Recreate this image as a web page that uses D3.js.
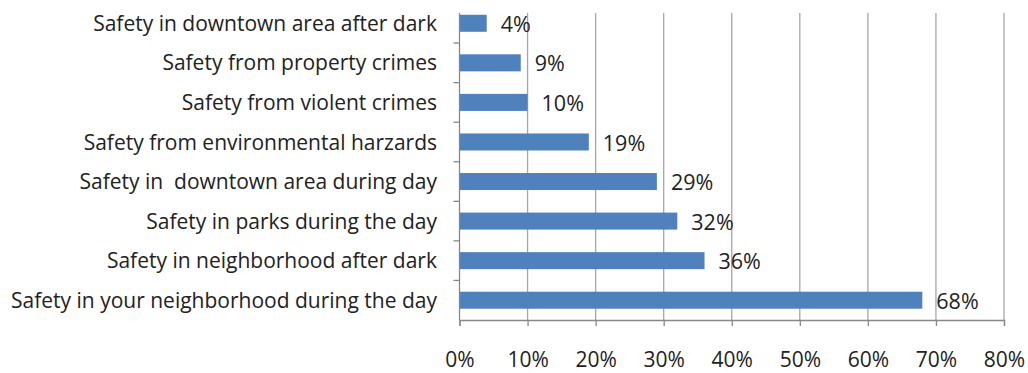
<!DOCTYPE html>
<html>
<head>
<meta charset="utf-8">
<script src="https://cdn.jsdelivr.net/npm/d3@7"></script>
<style>
  body { margin: 0; background: #fff; }
  text { font-family: "Open Sans", "Noto Sans", sans-serif; fill: #222; white-space: pre; }
</style>
</head>
<body>
<div id="chart"></div>
<script>
const width = 1028;
const height = 373;

// data, top to bottom
const categories = [
    "Safety in downtown area after dark",
    "Safety from property crimes",
    "Safety from violent crimes",
    "Safety from environmental harzards",
    "Safety in  downtown area during day",
    "Safety in parks during the day",
    "Safety in neighborhood after dark",
    "Safety in your neighborhood during the day"
];
const values = [4, 9, 10, 19, 29, 32, 36, 68];
const xTicks = [0, 10, 20, 30, 40, 50, 60, 70, 80];

const plotLeft = 459.5, plotRight = 1004, plotTop = 3.5, plotBottom = 320, gridTop = 13;

const svg = d3.select("#chart").append("svg")
    .attr("width", width)
    .attr("height", height);

const x = d3.scaleLinear().domain([0, 80]).range([plotLeft, plotRight]);
const y = d3.scaleBand().domain(categories).range([plotTop, plotBottom]).paddingInner(0.57).paddingOuter(0.285);

// vertical gridlines
svg.append("g").selectAll("line")
    .data(xTicks.slice(1))
    .enter().append("line")
    .attr("x1", d => x(d)).attr("x2", d => x(d))
    .attr("y1", gridTop).attr("y2", plotBottom)
    .attr("stroke", "#a6a6a6")
    .attr("stroke-width", 1.3);

// bars
svg.append("g").selectAll("rect")
    .data(values)
    .enter().append("rect")
    .attr("x", x(0))
    .attr("y", (d, i) => y(categories[i]))
    .attr("width", d => x(d) - x(0))
    .attr("height", y.bandwidth())
    .attr("fill", "#4f81bd");

// value labels
svg.append("g").selectAll("text")
    .data(values)
    .enter().append("text")
    .attr("x", d => x(d) + 14)
    .attr("y", (d, i) => y(categories[i]) + y.bandwidth() / 2)
    .attr("dy", "0.4em")
    .style("font-size", "21.5px")
    .text(d => d + "%");

// x axis
const xAxis = d3.axisBottom(x)
    .tickValues(xTicks)
    .tickSize(6)
    .tickPadding(26)
    .tickFormat(d => d + "%");

const gx = svg.append("g")
    .attr("transform", `translate(0,${plotBottom})`)
    .call(xAxis);
gx.select(".domain").attr("stroke", "#888").attr("stroke-width", 1.3);
gx.selectAll(".tick line").attr("stroke", "#888").attr("stroke-width", 1.3);
gx.selectAll(".tick text")
    .style("font-size", "21px")
    .style("font-family", "'Open Sans', sans-serif")
    .attr("fill", "#222");

// y axis line and category ticks
const bandStep = y.step();
svg.append("line")
    .attr("x1", plotLeft).attr("x2", plotLeft)
    .attr("y1", gridTop).attr("y2", plotBottom)
    .attr("stroke", "#888").attr("stroke-width", 1.3);

svg.append("g").selectAll("line")
    .data(categories.slice(1))
    .enter().append("line")
    .attr("x1", plotLeft - 6).attr("x2", plotLeft)
    .attr("y1", d => y(d) - (bandStep - y.bandwidth()) / 2)
    .attr("y2", d => y(d) - (bandStep - y.bandwidth()) / 2)
    .attr("stroke", "#888").attr("stroke-width", 1.3);

// category labels
svg.append("g").selectAll("text")
    .data(categories)
    .enter().append("text")
    .attr("x", 437)
    .attr("y", d => y(d) + y.bandwidth() / 2)
    .attr("dy", "0.36em")
    .attr("text-anchor", "end")
    .style("font-size", "21px")
    .text(d => d);
</script>
</body>
</html>
